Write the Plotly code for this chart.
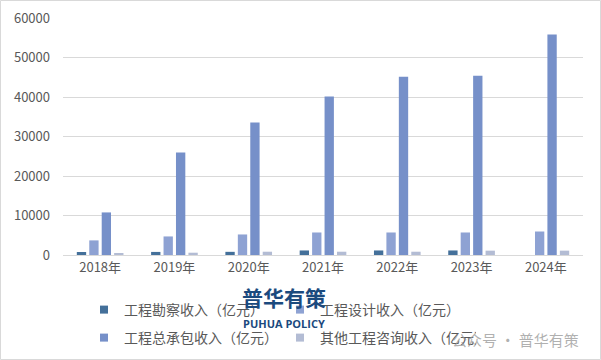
import plotly.graph_objects as go

years = ["2018年", "2019年", "2020年", "2021年", "2022年", "2023年", "2024年"]
survey = [760, 780, 800, 1150, 1150, 1150, None]
design = [3700, 4700, 5200, 5700, 5700, 5700, 5950]
general = [10780, 25950, 33550, 40100, 45100, 45350, 55800]
other = [330, 580, 830, 830, 830, 1100, 1100]

names = ["工程勘察收入（亿元）", "工程设计收入（亿元）", "工程总承包收入（亿元）", "其他工程咨询收入（亿元）"]
colors = ["#44709A", "#8EA2D3", "#7690C9", "#B3BCD4"]
legends = ["legend", "legend", "legend2", "legend2"]
series = [survey, design, general, other]

font = "Noto Sans CJK SC, Microsoft YaHei, sans-serif"

fig = go.Figure()
for n, c, s in zip(names, colors, series):
    fig.add_trace(go.Bar(x=years, y=s, name=n, marker=dict(color=c, line=dict(width=0)),
                         showlegend=False))
# legend swatches (small squares like the reference)
for n, c, lg in zip(names, colors, legends):
    fig.add_trace(go.Scatter(x=[None], y=[None], mode="markers", name=n, legend=lg,
                             marker=dict(symbol="square", size=8, color=c)))

W, H = 601, 360
L, R, T, B = 63, 18, 18, 105
pw = W - L - R
ph = H - T - B

def px(x):
    return (x - L) / pw

def py(y):
    return (H - B - y) / ph

leg_common = dict(orientation="h", xanchor="left", yanchor="middle",
                  font=dict(family=font, size=14, color="#595959"),
                  bgcolor="rgba(0,0,0,0)", entrywidth=151, entrywidthmode="pixels",
                  itemwidth=30, itemclick=False)

fig.update_layout(
    width=W, height=H,
    margin=dict(l=L, r=R, t=T, b=B, autoexpand=False),
    paper_bgcolor="white", plot_bgcolor="white",
    barmode="group", bargap=0.33, bargroupgap=0.25,
    font=dict(family=font, color="#595959"),
    legend=dict(x=px(84), y=py(310), **leg_common),
    legend2=dict(x=px(84), y=py(338), **leg_common),
    xaxis=dict(showgrid=False, showline=True, linecolor="#D9D9D9", linewidth=1,
               ticks="", tickfont=dict(family=font, size=13, color="#595959")),
    yaxis=dict(range=[0, 60000], dtick=10000, showgrid=True, gridcolor="#D9D9D9",
               gridwidth=1, zeroline=False, showline=False, ticks="",
               tickformat="d", ticklabelstandoff=12,
               tickfont=dict(family=font, size=13, color="#595959")),
)

# outer border of the image
fig.add_shape(type="rect", xref="paper", yref="paper",
              x0=px(0.5), x1=px(W - 0.5), y0=py(H - 0.5), y1=py(0.5),
              line=dict(color="#D9D9D9", width=1), fillcolor="rgba(0,0,0,0)", layer="below")

# watermark
fig.add_annotation(text="<b>普华有策</b>", xref="paper", yref="paper", x=px(284), y=py(297),
                   showarrow=False, font=dict(family=font, size=21, color="#1B4A7E"),
                   xanchor="center", yanchor="middle")
fig.add_annotation(text="<b>PUHUA POLICY</b>", xref="paper", yref="paper", x=px(284), y=py(323),
                   showarrow=False, font=dict(family="Open Sans, sans-serif", size=11, color="#1B4A7E"),
                   xanchor="center", yanchor="middle")
fig.add_annotation(text="公众号 · 普华有策", xref="paper", yref="paper", x=px(581), y=py(339),
                   showarrow=False, font=dict(family=font, size=15, color="rgba(150,150,150,0.75)"),
                   xanchor="right", yanchor="middle")

fig.write_html("out.html", config={"displayModeBar": False},
               post_script="document.body.style.margin='0';")
